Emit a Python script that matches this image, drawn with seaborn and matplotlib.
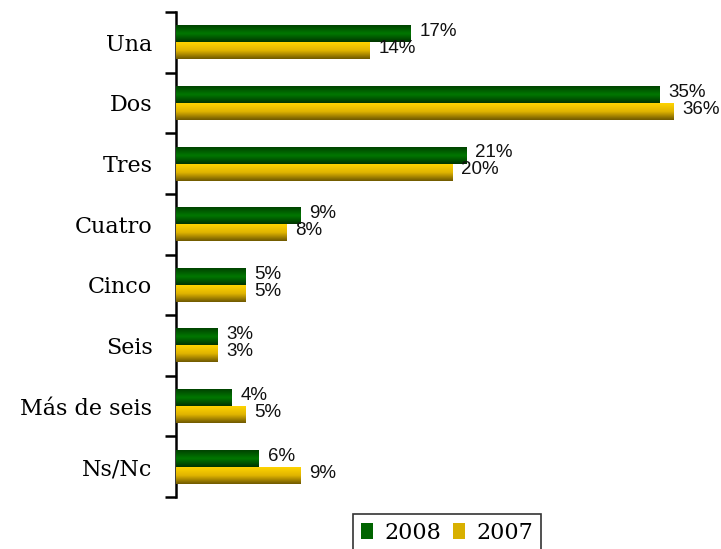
import numpy as np
import pandas as pd
import matplotlib.pyplot as plt
import seaborn as sns
from matplotlib.patches import Patch
from matplotlib.colors import LinearSegmentedColormap

# Data
categories = ['Una', 'Dos', 'Tres', 'Cuatro', 'Cinco', 'Seis', 'Más de seis', 'Ns/Nc']
years = ['2008', '2007']
values_2008 = [17, 35, 21, 9, 5, 3, 4, 6]
values_2007 = [14, 36, 20, 8, 5, 3, 5, 9]

df = pd.DataFrame({
    'Categoria': categories * 2,
    'Año': [years[0]] * len(categories) + [years[1]] * len(categories),
    'Valor': values_2008 + values_2007,
})

sns.set_style('white')
plt.rcParams['font.family'] = ['DejaVu Sans']

fig = plt.figure(figsize=(7.21, 5.49), dpi=100)
ax = fig.add_axes([176 / 721, 1 - 497 / 549, 545 / 721, 485 / 549])

palette = {'2008': '#006400', '2007': '#c8a000'}
sns.barplot(data=df, y='Categoria', x='Valor', hue='Año', order=categories,
            hue_order=years, palette=palette, width=0.56, orient='h',
            ax=ax, legend=False, saturation=1)

## gradient fills on top of the bars
green_cmap = LinearSegmentedColormap.from_list('g', ['#004200', '#007800', '#003400'])
yellow_cmap = LinearSegmentedColormap.from_list('y', ['#ffd400', '#e0b400', '#6e5800'])
grad = np.linspace(0, 1, 64).reshape(-1, 1)

n = len(categories)
for i, patch in enumerate(ax.patches[:2 * n]):
    cmap = green_cmap if i < n else yellow_cmap
    x0, y0 = patch.get_x(), patch.get_y()
    w, h = patch.get_width(), patch.get_height()
    ax.imshow(grad, cmap=cmap, aspect='auto', extent=[x0, x0 + w, y0 + h, y0],
              zorder=3, interpolation='bicubic')

## value labels
for i, patch in enumerate(ax.patches[:2 * n]):
    w = patch.get_width()
    yc = patch.get_y() + patch.get_height() / 2
    ax.annotate(f'{w:.0f}%', (w, yc), xytext=(6.5, 1.5), textcoords='offset points',
                ha='left', va='center', fontsize=13.5, family='Liberation Sans',
                color='#111111')

ax.set_xlim(0, 39.45)
ax.set_ylim(n - 0.5, -0.5)
ax.set_xlabel('')
ax.set_ylabel('')
ax.set_xticks([])

## category ticks at the boundaries
ax.set_yticks(range(n))
ax.set_yticklabels(categories, family='DejaVu Serif', fontsize=16, color='black')
ax.tick_params(axis='y', which='major', length=0, pad=17)
ax.set_yticks(np.arange(-0.5, n, 1), minor=True)
ax.tick_params(axis='y', which='minor', length=8, width=1.8, color='black', left=True)

for s in ['top', 'right', 'bottom']:
    ax.spines[s].set_visible(False)
ax.spines['left'].set_color('black')
ax.spines['left'].set_linewidth(1.8)

## legend
handles = [Patch(facecolor='#006400', edgecolor='none', label='2008'),
           Patch(facecolor='#d8b000', edgecolor='none', label='2007')]
leg = fig.legend(handles=handles, loc='upper left', ncol=2,
                 bbox_to_anchor=(353 / 721, 1 - 514 / 549), frameon=True,
                 fancybox=False, edgecolor='black', borderaxespad=0,
                 handlelength=0.55, handleheight=0.68, handletextpad=0.5,
                 columnspacing=0.55, borderpad=0.35,
                 prop={'family': 'DejaVu Serif', 'size': 16})
leg.get_frame().set_linewidth(1.2)
for t in leg.get_texts():
    t.set_color('black')

fig.savefig('out.png', dpi=100)
